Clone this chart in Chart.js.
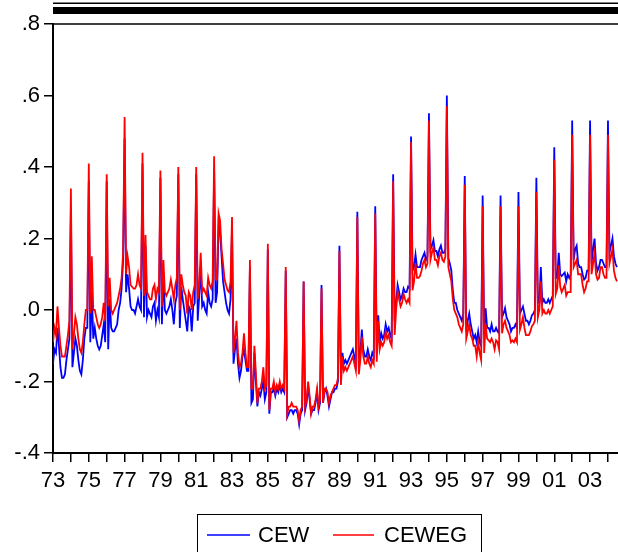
<!DOCTYPE html>
<html>
<head>
<meta charset="utf-8">
<script src="https://cdn.jsdelivr.net/npm/chart.js@4.4.1/dist/chart.umd.min.js"></script>
<style>
  html, body { margin: 0; padding: 0; background: #fff; }
  #wrap { width: 618px; height: 552px; }
</style>
</head>
<body>
<div id="wrap"><canvas id="cewChart" width="618" height="552"></canvas></div>
<script>
// monthly series, Jan 1973 .. Jul 2004 (one row per year)
const startYear = 1973;
const seriesNames = ['CEW', 'CEWEG'];
const xTickLabels = ['73', '75', '77', '79', '81', '83', '85', '87', '89', '91', '93', '95', '97', '99', '01', '03'];

const cew = [
  -0.15, -0.11, -0.12, -0.05, -0.10, -0.16, -0.19, -0.19, -0.18, -0.14, -0.11, -0.08,
  0.28, -0.16, -0.12, -0.08, -0.10, -0.14, -0.17, -0.18, -0.14, -0.08, -0.05, -0.05,
  0.36, -0.09, 0.05, -0.08, -0.05, -0.08, -0.10, -0.11, -0.10, -0.07, -0.04, -0.09,
  0.36, -0.11, 0.03, -0.05, -0.06, -0.06, -0.05, -0.04, 0.00, 0.02, 0.06, 0.14,
  0.48, 0.05, 0.10, 0.06, 0.01, 0.00, 0.00, -0.01, 0.01, 0.03, 0.01, 0.00,
  0.41, -0.02, 0.18, -0.02, 0.00, -0.01, -0.02, 0.01, 0.02, -0.03, 0.00, -0.02,
  0.37, -0.04, 0.10, 0.00, -0.01, 0.00, 0.01, 0.03, 0.00, -0.04, 0.02, 0.04,
  0.38, -0.05, 0.065, 0.03, 0.00, -0.03, -0.06, 0.01, 0.00, -0.06, 0.01, 0.02,
  0.38, -0.03, 0.04, 0.12, 0.01, 0.02, 0.00, -0.01, 0.05, 0.02, 0.01, 0.03,
  0.39, 0.02, 0.05, 0.24, 0.22, 0.15, 0.08, 0.05, 0.02, 0.00, -0.01, 0.03,
  0.23, -0.15, -0.11, -0.08, -0.15, -0.19, -0.17, -0.13, -0.11, -0.14, -0.17, -0.17,
  0.12, -0.26, -0.25, -0.12, -0.20, -0.27, -0.23, -0.24, -0.22, -0.20, -0.25, -0.23,
  0.17, -0.29, -0.23, -0.23, -0.22, -0.24, -0.22, -0.23, -0.21, -0.23, -0.22, -0.23,
  0.11, -0.30, -0.29, -0.28, -0.28, -0.29, -0.28, -0.28, -0.29, -0.32, -0.29, -0.28,
  0.08, -0.28, -0.26, -0.21, -0.25, -0.29, -0.28, -0.28, -0.26, -0.23, -0.28, -0.26,
  0.07, -0.26, -0.23, -0.22, -0.24, -0.27, -0.25, -0.23, -0.23, -0.22, -0.22, -0.20,
  0.18, -0.19, -0.12, -0.15, -0.14, -0.15, -0.14, -0.13, -0.12, -0.11, -0.13, -0.15,
  0.275, -0.16, -0.12, -0.055, -0.11, -0.13, -0.13, -0.11, -0.13, -0.14, -0.12, -0.13,
  0.29, -0.12, -0.015, -0.09, -0.065, -0.08, -0.07, -0.04, -0.06, -0.05, -0.07, -0.08,
  0.38, -0.03, 0.02, 0.07, 0.05, 0.03, 0.04, 0.06, 0.05, 0.05, 0.065, 0.06,
  0.485, 0.11, 0.12, 0.155, 0.12, 0.12, 0.12, 0.14, 0.15, 0.16, 0.14, 0.15,
  0.55, 0.17, 0.18, 0.195, 0.165, 0.165, 0.15, 0.17, 0.18, 0.16, 0.16, 0.17,
  0.60, 0.145, 0.13, 0.11, 0.055, 0.02, 0.02, 0.00, -0.01, -0.02, -0.03, -0.01,
  0.375, -0.06, -0.03, -0.01, -0.04, -0.06, -0.08, -0.07, -0.09, -0.06, -0.09, -0.10,
  0.32, -0.07, 0.005, -0.05, -0.05, -0.06, -0.04, -0.06, -0.06, -0.05, -0.06, -0.065,
  0.32, -0.02, -0.01, 0.005, -0.02, -0.03, -0.04, -0.06, -0.05, -0.05, -0.04, -0.05,
  0.33, -0.01, 0.00, 0.01, -0.01, -0.03, -0.03, -0.04, -0.03, -0.015, -0.01, 0.00,
  0.37, 0.02, 0.02, 0.12, 0.02, 0.03, 0.02, 0.02, 0.03, 0.02, 0.03, 0.04,
  0.455, 0.09, 0.09, 0.16, 0.10, 0.095, 0.10, 0.105, 0.08, 0.10, 0.09, 0.10,
  0.53, 0.14, 0.17, 0.18, 0.13, 0.12, 0.12, 0.10, 0.085, 0.09, 0.11, 0.11,
  0.53, 0.13, 0.17, 0.20, 0.13, 0.11, 0.12, 0.14, 0.14, 0.13, 0.12, 0.12,
  0.53, 0.16, 0.18, 0.20, 0.15, 0.13, 0.12
];

const ceweg = [
  -0.09, -0.05, -0.07, 0.01, -0.05, -0.10, -0.13, -0.13, -0.13, -0.10, -0.07, -0.03,
  0.34, -0.11, -0.07, -0.02, -0.04, -0.08, -0.11, -0.12, -0.09, -0.04, 0.00, 0.00,
  0.41, -0.01, 0.15, 0.00, 0.00, -0.02, -0.04, -0.05, -0.04, -0.02, 0.02, -0.03,
  0.38, 0.01, 0.09, 0.00, -0.01, 0.00, 0.01, 0.02, 0.04, 0.06, 0.09, 0.16,
  0.54, 0.10, 0.15, 0.12, 0.07, 0.065, 0.06, 0.06, 0.07, 0.10, 0.07, 0.06,
  0.44, 0.04, 0.21, 0.05, 0.04, 0.03, 0.03, 0.06, 0.07, 0.03, 0.06, 0.05,
  0.39, 0.01, 0.14, 0.05, 0.04, 0.05, 0.06, 0.085, 0.06, 0.03, 0.07, 0.09,
  0.40, 0.00, 0.10, 0.07, 0.05, 0.04, -0.01, 0.05, 0.04, 0.00, 0.05, 0.07,
  0.40, 0.03, 0.07, 0.16, 0.05, 0.06, 0.05, 0.04, 0.09, 0.07, 0.06, 0.08,
  0.43, 0.085, 0.085, 0.27, 0.25, 0.17, 0.13, 0.085, 0.07, 0.055, 0.05, 0.08,
  0.26, -0.12, -0.08, -0.03, -0.12, -0.16, -0.15, -0.12, -0.065, -0.12, -0.16, -0.16,
  0.14, -0.22, -0.22, -0.10, -0.18, -0.26, -0.22, -0.22, -0.20, -0.16, -0.22, -0.21,
  0.185, -0.28, -0.22, -0.22, -0.20, -0.23, -0.21, -0.22, -0.20, -0.22, -0.21, -0.22,
  0.12, -0.29, -0.27, -0.27, -0.26, -0.27, -0.27, -0.27, -0.28, -0.31, -0.28, -0.27,
  0.08, -0.27, -0.25, -0.20, -0.24, -0.29, -0.27, -0.27, -0.25, -0.22, -0.27, -0.25,
  0.06, -0.26, -0.22, -0.22, -0.23, -0.26, -0.24, -0.23, -0.22, -0.21, -0.21, -0.19,
  0.165, -0.21, -0.13, -0.17, -0.16, -0.17, -0.16, -0.15, -0.14, -0.13, -0.15, -0.17,
  0.26, -0.18, -0.14, -0.075, -0.13, -0.15, -0.15, -0.13, -0.15, -0.16, -0.14, -0.15,
  0.27, -0.145, -0.03, -0.11, -0.09, -0.10, -0.09, -0.06, -0.08, -0.07, -0.09, -0.10,
  0.36, -0.07, 0.00, 0.05, 0.03, 0.01, 0.02, 0.045, 0.03, 0.02, 0.03, 0.02,
  0.47, 0.055, 0.08, 0.13, 0.09, 0.09, 0.095, 0.11, 0.13, 0.14, 0.12, 0.13,
  0.53, 0.14, 0.16, 0.175, 0.14, 0.14, 0.125, 0.15, 0.16, 0.14, 0.135, 0.15,
  0.57, 0.12, 0.10, 0.08, 0.03, 0.00, -0.01, -0.02, -0.04, -0.05, -0.06, -0.04,
  0.35, -0.08, -0.06, -0.04, -0.07, -0.08, -0.10, -0.10, -0.13, -0.09, -0.12, -0.14,
  0.29, -0.12, -0.04, -0.08, -0.085, -0.09, -0.08, -0.09, -0.11, -0.085, -0.09, -0.11,
  0.29, -0.065, -0.04, -0.03, -0.05, -0.06, -0.07, -0.09, -0.085, -0.09, -0.08, -0.09,
  0.29, -0.055, -0.04, -0.02, -0.05, -0.07, -0.07, -0.07, -0.06, -0.045, -0.04, -0.03,
  0.33, -0.02, 0.00, 0.08, -0.01, 0.00, -0.01, -0.01, 0.00, -0.01, 0.00, 0.01,
  0.42, 0.045, 0.06, 0.125, 0.065, 0.05, 0.06, 0.07, 0.04, 0.05, 0.05, 0.05,
  0.49, 0.12, 0.13, 0.14, 0.10, 0.10, 0.10, 0.07, 0.05, 0.06, 0.08, 0.08,
  0.49, 0.10, 0.13, 0.16, 0.10, 0.085, 0.09, 0.12, 0.12, 0.10, 0.09, 0.09,
  0.49, 0.13, 0.15, 0.17, 0.11, 0.09, 0.08
];

const FONT = 'Liberation Sans, Arial, sans-serif';

// x as decimal year, so Chart.js's linear scale places the months
function toPoints(values) {
  return values.map((v, i) => ({ x: startYear + i / 12, y: v }));
}

// EViews-like frame bits above the plot and the boxed legend underneath
const framePlugin = {
  id: 'frame',
  afterDraw(chart) {
    const c = chart.ctx;
    const a = chart.chartArea;
    const w = chart.width - a.left;
    c.save();
    c.fillStyle = '#000';
    c.fillRect(a.left, 2.5, w, 1.5);
    c.fillRect(a.left, 7, w, 7);
    c.fillRect(a.left, a.top - 0.75, w, 1.5);

    // legend
    c.lineWidth = 1;
    c.strokeStyle = '#000';
    c.strokeRect(197.5, 514.5, 284, 60);
    const slots = [{ x0: 207, x1: 250, tx: 258 }, { x0: 333, x1: 374, tx: 384 }];
    c.font = '22px ' + FONT;
    c.textBaseline = 'middle';
    chart.data.datasets.forEach((ds, i) => {
      const s = slots[i];
      c.strokeStyle = ds.borderColor;
      c.lineWidth = 1.5;
      c.beginPath();
      c.moveTo(s.x0, 535);
      c.lineTo(s.x1, 535);
      c.stroke();
      c.fillStyle = '#000';
      c.fillText(ds.label, s.tx, 536);
    });
    c.restore();
  }
};

const ctx = document.getElementById('cewChart').getContext('2d');
const myChart = new Chart(ctx, {
  type: 'line',
  data: {
    datasets: [{
      label: seriesNames[0],
      data: toPoints(cew),
      borderColor: '#0000ff',
      borderWidth: 1.8,
      pointRadius: 0,
      tension: 0,
      order: 1
    }, {
      label: seriesNames[1],
      data: toPoints(ceweg),
      borderColor: '#ff0000',
      borderWidth: 1.8,
      pointRadius: 0,
      tension: 0,
      order: 0
    }]
  },
  options: {
    responsive: false,
    animation: false,
    layout: { padding: { top: 24, left: 0, right: 0, bottom: 0 } },
    plugins: {
      legend: { display: false },
      tooltip: { enabled: false }
    },
    scales: {
      x: {
        type: 'linear',
        min: 1973,
        max: 2004.56,
        afterFit(scale) { scale.height = 99; },
        border: { display: true, color: '#000', width: 2 },
        grid: { drawOnChartArea: false, drawTicks: true, tickLength: 9, color: '#000', lineWidth: 1.5 },
        ticks: {
          stepSize: 1,
          includeBounds: false,
          autoSkip: false,
          maxRotation: 0,
          padding: 6,
          color: '#000',
          font: { family: FONT, size: 22 },
          callback(value) {
            const yr = Math.round(value);
            if ((yr - startYear) % 2 !== 0) return '';
            return xTickLabels[(yr - startYear) / 2] || '';
          }
        }
      },
      y: {
        min: -0.4,
        max: 0.8,
        afterFit(scale) { scale.width = 53; },
        border: { display: true, color: '#000', width: 2 },
        grid: { drawOnChartArea: false, drawTicks: true, tickLength: 9, color: '#000', lineWidth: 1.5 },
        ticks: {
          stepSize: 0.2,
          padding: 4,
          color: '#000',
          font: { family: FONT, size: 22 },
          callback(value) {
            return value.toFixed(1).replace('0.', '.');
          }
        }
      }
    }
  },
  plugins: [framePlugin]
});
</script>
</body>
</html>
